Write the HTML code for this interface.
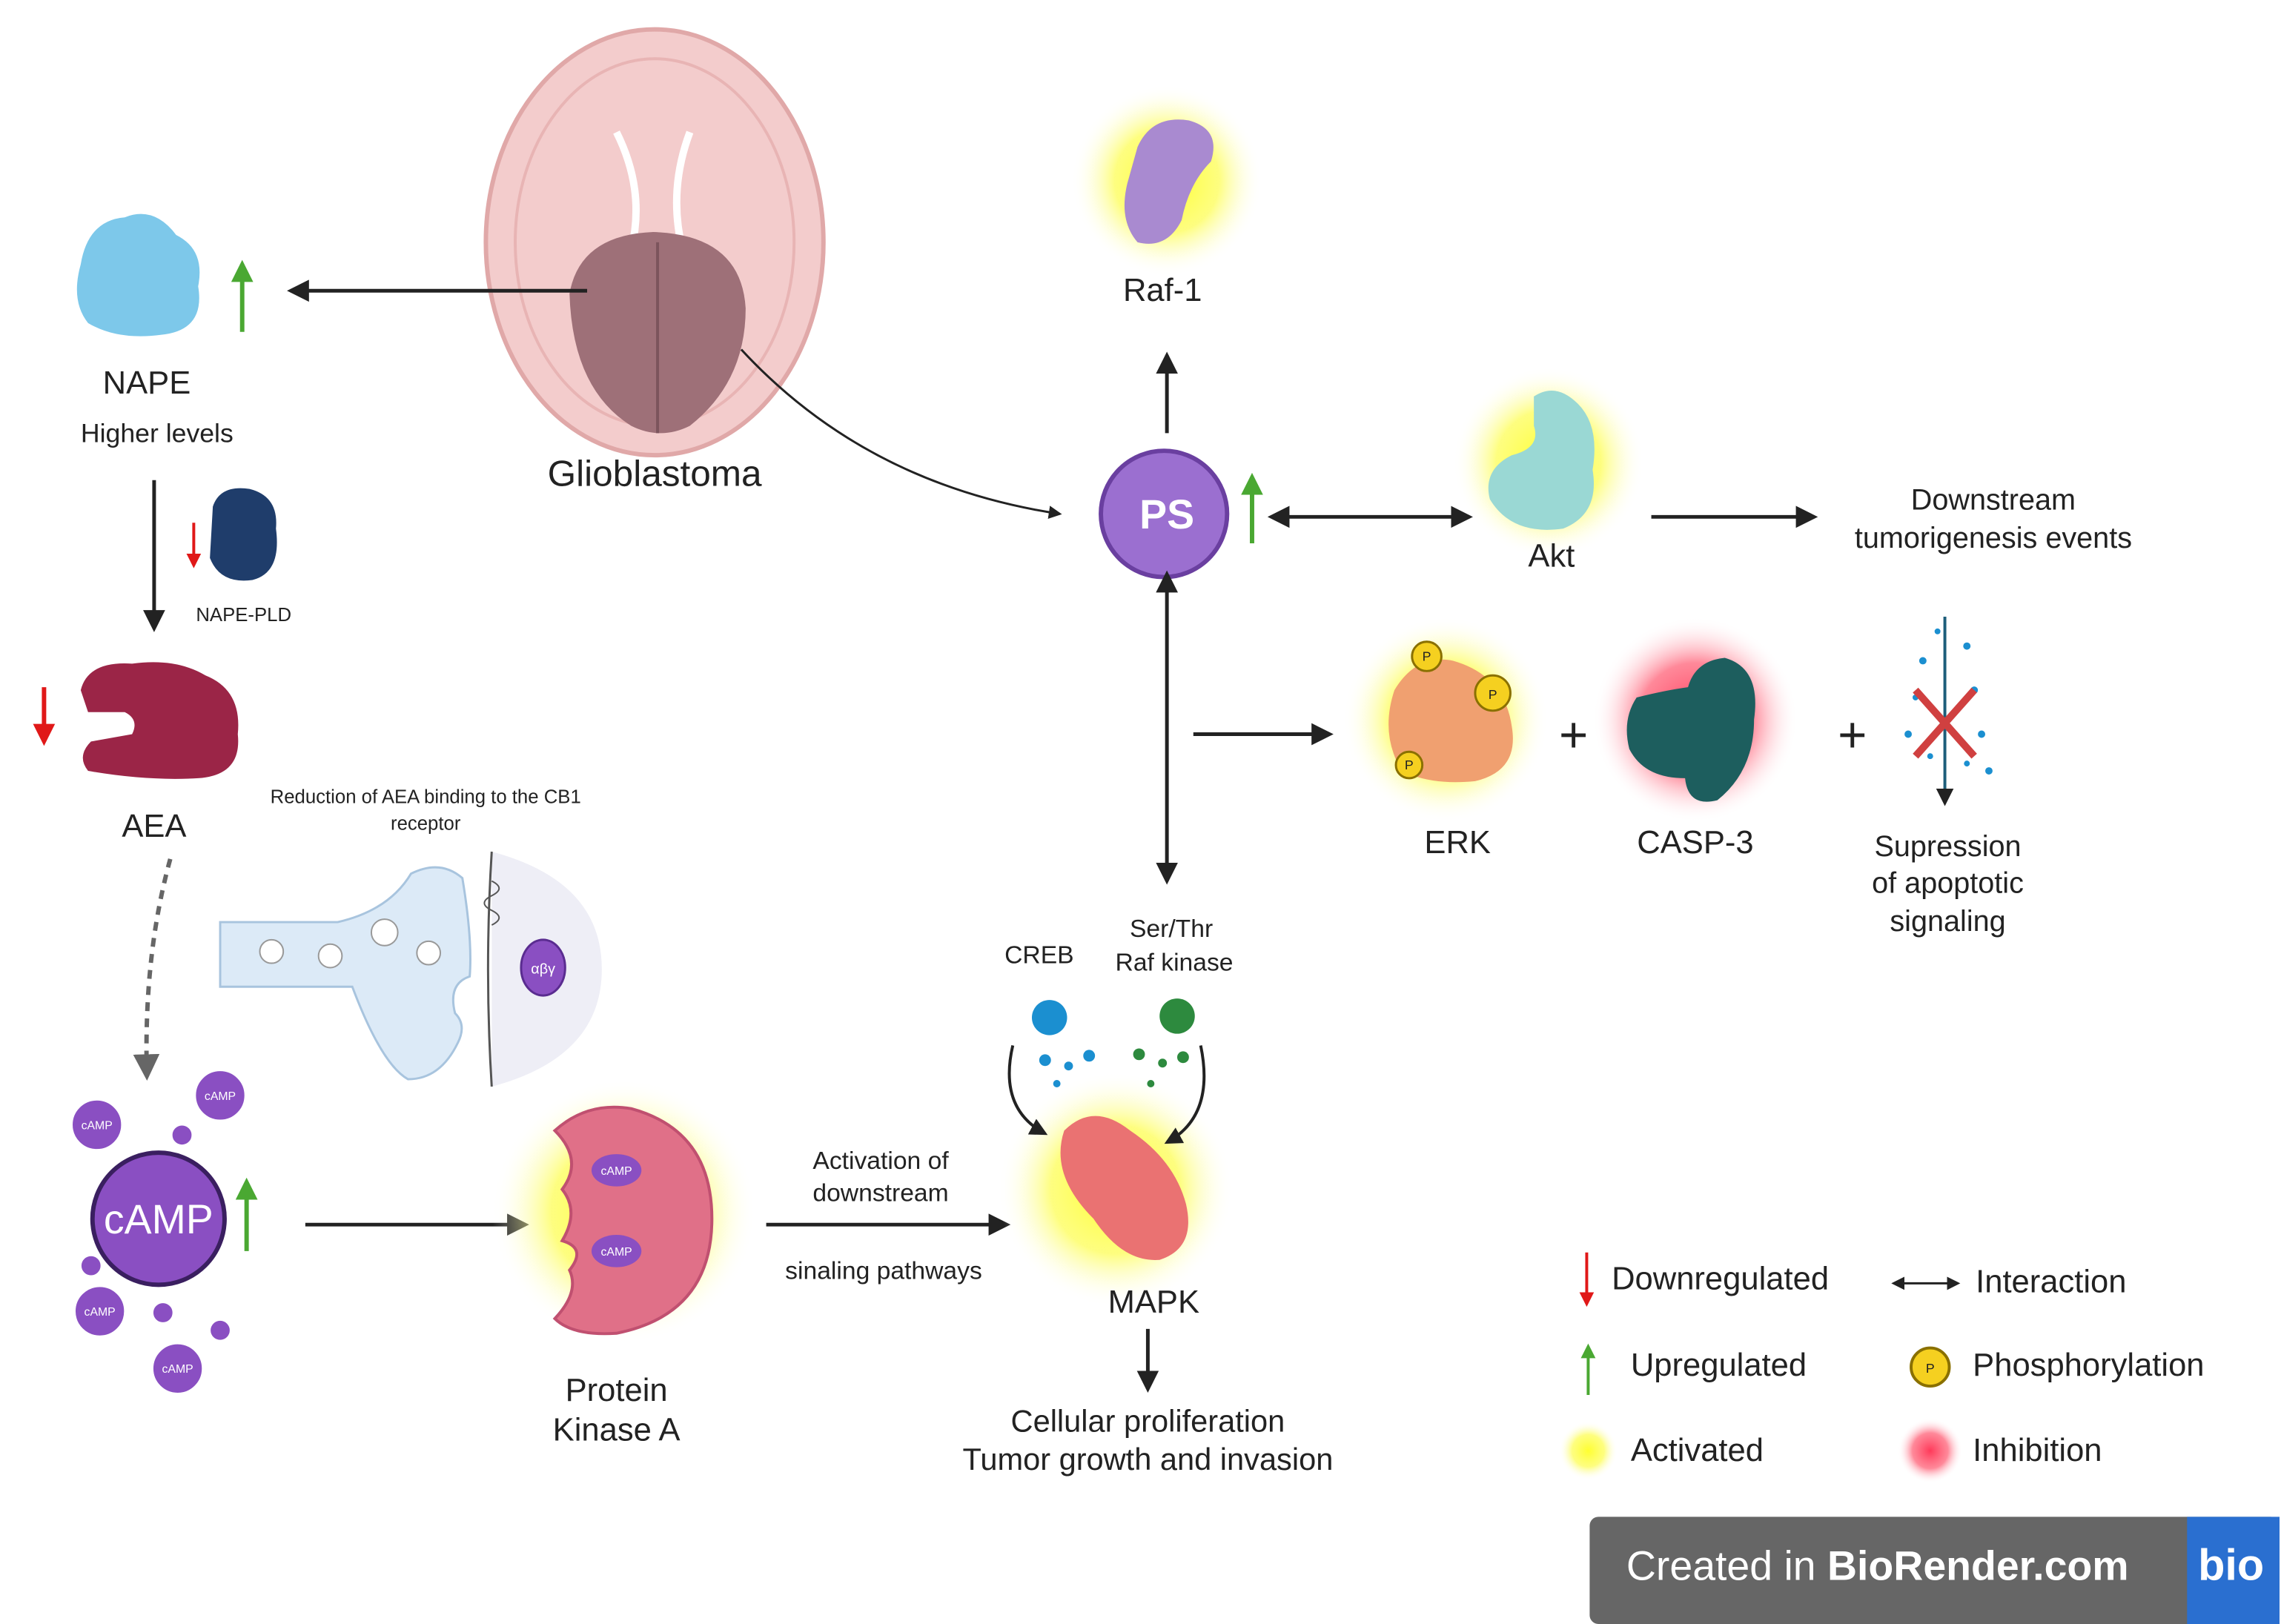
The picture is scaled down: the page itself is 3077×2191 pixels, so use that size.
<!DOCTYPE html>
<html><head><meta charset="utf-8"><style>
html,body{margin:0;padding:0;background:#fff;}
svg{display:block;}
text{font-family:"Liberation Sans",sans-serif;fill:#222;text-anchor:middle;}
</style></head><body>
<svg width="3077" height="2191" viewBox="0 0 1554 1106" preserveAspectRatio="none" xmlns="http://www.w3.org/2000/svg">
<defs>
<radialGradient id="gy"><stop offset="0" stop-color="#ffff30"/><stop offset="0.55" stop-color="#fdfd60" stop-opacity="0.8"/><stop offset="1" stop-color="#fff" stop-opacity="0"/></radialGradient>
<radialGradient id="gr"><stop offset="0" stop-color="#ff3a5a"/><stop offset="0.55" stop-color="#ff6b80" stop-opacity="0.8"/><stop offset="1" stop-color="#fff" stop-opacity="0"/></radialGradient>
<marker id="ah" markerWidth="6" markerHeight="6" refX="5" refY="3" orient="auto" markerUnits="strokeWidth"><path d="M0,0 L6,3 L0,6 z" fill="#222"/></marker>
<marker id="ahs" markerWidth="6" markerHeight="6" refX="1" refY="3" orient="auto-start-reverse" markerUnits="strokeWidth"><path d="M0,0 L6,3 L0,6 z" fill="#222"/></marker>
<marker id="ahg" markerWidth="5" markerHeight="5" refX="4" refY="2.5" orient="auto" markerUnits="strokeWidth"><path d="M0,0 L5,2.5 L0,5 z" fill="#4aa832"/></marker>
<marker id="ahr" markerWidth="5" markerHeight="5" refX="4" refY="2.5" orient="auto" markerUnits="strokeWidth"><path d="M0,0 L5,2.5 L0,5 z" fill="#e01818"/></marker>
<marker id="ahgr" markerWidth="6" markerHeight="6" refX="4" refY="3" orient="auto" markerUnits="strokeWidth"><path d="M0,0 L6,3 L0,6 z" fill="#666"/></marker>
</defs>

<!-- Brain -->
<ellipse cx="446" cy="165" rx="115" ry="145" fill="#f3cccc" stroke="#e0a8a8" stroke-width="3"/>
<ellipse cx="446" cy="165" rx="95" ry="125" fill="none" stroke="#e8b4b4" stroke-width="2"/>
<path d="M420,90 Q440,130 430,170 M470,90 Q455,130 465,170" stroke="#fff" stroke-width="5" fill="none"/>
<path d="M388,200 Q395,160 445,158 Q505,160 508,210 Q508,260 470,290 Q450,300 430,290 Q390,265 388,200z" fill="#9e7078"/>
<line x1="448" y1="165" x2="448" y2="295" stroke="#7c545c" stroke-width="2"/>
<text x="446" y="331" font-size="25">Glioblastoma</text>

<!-- NAPE -->
<path d="M55,180 Q60,150 85,148 Q105,140 120,160 Q140,170 135,195 Q140,225 110,228 Q80,232 60,220 Q48,205 55,180z" fill="#7dc8ea"/>
<line x1="400" y1="198" x2="198" y2="198" stroke="#222" stroke-width="2.5" marker-end="url(#ah)"/>
<line x1="165" y1="226" x2="165" y2="180" stroke="#4aa832" stroke-width="3" marker-end="url(#ahg)"/>
<text x="100" y="268" font-size="22">NAPE</text>
<text x="107" y="301" font-size="18">Higher levels</text>
<line x1="105" y1="327" x2="105" y2="428" stroke="#222" stroke-width="2.5" marker-end="url(#ah)"/>
<path d="M145,345 Q150,330 170,333 Q190,338 188,360 Q192,390 172,395 Q150,398 143,380z" fill="#1f3d6b"/>
<line x1="132" y1="356" x2="132" y2="385" stroke="#e01818" stroke-width="2" marker-end="url(#ahr)"/>
<text x="166" y="423" font-size="13">NAPE-PLD</text>

<!-- AEA -->
<path d="M55,470 Q60,450 90,452 Q120,448 140,460 Q165,470 162,500 Q165,528 135,530 Q100,532 60,525 Q52,515 62,505 L90,500 Q95,490 85,485 L60,485z" fill="#9b2547"/>
<line x1="30" y1="468" x2="30" y2="505" stroke="#e01818" stroke-width="3" marker-end="url(#ahr)"/>
<text x="105" y="570" font-size="22">AEA</text>
<text x="290" y="547" font-size="13">Reduction of AEA binding to the CB1</text>
<text x="290" y="565" font-size="13">receptor</text>

<!-- synapse -->
<path d="M335,580 Q410,600 410,660 Q410,720 335,740z" fill="#eeeef6"/>
<path d="M335,580 Q330,660 335,740" stroke="#555" stroke-width="1.5" fill="none"/>
<path d="M150,628 L230,628 Q265,620 280,595 Q300,585 315,598 Q322,640 320,665 Q305,670 310,690 Q318,698 312,710 Q300,735 278,735 Q260,725 240,672 L150,672z" fill="#dceaf7" stroke="#a8c4de" stroke-width="1.5"/>
<circle cx="185" cy="648" r="8" fill="#fff" stroke="#999"/><circle cx="225" cy="651" r="8" fill="#fff" stroke="#999"/>
<circle cx="262" cy="635" r="9" fill="#fff" stroke="#999"/><circle cx="292" cy="649" r="8" fill="#fff" stroke="#999"/>
<path d="M335,600 q10,5 0,10 q-10,5 0,10 q10,5 0,10" stroke="#555" fill="none"/>
<ellipse cx="370" cy="659" rx="15" ry="19" fill="#8a4fc2" stroke="#5a2c90" stroke-width="1.5"/>
<text x="370" y="663" font-size="10" style="fill:#fff">αβγ</text>

<!-- dashed -->
<path d="M116,585 Q98,650 100,730" stroke="#666" stroke-width="3" stroke-dasharray="6,5" fill="none" marker-end="url(#ahgr)"/>

<!-- cAMP -->
<g fill="#8a4fc2" stroke="#fff" stroke-width="1">
<circle cx="66" cy="766" r="17"/><circle cx="150" cy="746" r="17"/><circle cx="124" cy="773" r="7"/>
<circle cx="62" cy="862" r="7"/><circle cx="68" cy="893" r="17"/><circle cx="111" cy="894" r="7"/>
<circle cx="150" cy="906" r="7"/><circle cx="121" cy="932" r="17"/></g>
<g font-size="8"><text x="66" y="769" style="fill:#fff">cAMP</text><text x="150" y="749" style="fill:#fff">cAMP</text><text x="68" y="896" style="fill:#fff">cAMP</text><text x="121" y="935" style="fill:#fff">cAMP</text></g>
<circle cx="108" cy="830" r="45" fill="#8a4fc2" stroke="#3a1f60" stroke-width="3"/>
<text x="108" y="840" font-size="28" style="fill:#fff">cAMP</text>
<line x1="168" y1="852" x2="168" y2="805" stroke="#4aa832" stroke-width="3" marker-end="url(#ahg)"/>
<line x1="208" y1="834" x2="358" y2="834" stroke="#222" stroke-width="2.5" marker-end="url(#ah)"/>

<!-- PKA -->
<circle cx="425" cy="825" r="90" fill="url(#gy)"/>
<path d="M378,770 Q400,750 430,755 Q485,770 485,830 Q485,895 420,908 Q390,910 378,898 Q395,880 388,865 Q400,850 383,845 Q395,825 383,810 Q398,790 378,770z" fill="#e07088" stroke="#c05070" stroke-width="2"/>
<ellipse cx="420" cy="797" rx="17" ry="11" fill="#8a4fc2"/><ellipse cx="420" cy="852" rx="17" ry="11" fill="#8a4fc2"/>
<text x="420" y="800" font-size="8" style="fill:#fff">cAMP</text><text x="420" y="855" font-size="8" style="fill:#fff">cAMP</text>
<text x="420" y="954" font-size="22">Protein</text>
<text x="420" y="981" font-size="22">Kinase A</text>

<line x1="522" y1="834" x2="686" y2="834" stroke="#222" stroke-width="2.5" marker-end="url(#ah)"/>
<text x="600" y="796" font-size="17">Activation of</text>
<text x="600" y="818" font-size="17">downstream</text>
<text x="602" y="871" font-size="17">sinaling pathways</text>

<!-- MAPK -->
<circle cx="760" cy="810" r="80" fill="url(#gy)"/>
<path d="M725,770 Q745,750 770,770 Q800,790 808,820 Q815,850 790,858 Q765,860 745,830 Q715,800 725,770z" fill="#ea7272"/>
<text x="786" y="894" font-size="22">MAPK</text>
<line x1="782" y1="905" x2="782" y2="946" stroke="#222" stroke-width="2.5" marker-end="url(#ah)"/>
<text x="782" y="975" font-size="21">Cellular proliferation</text>
<text x="782" y="1001" font-size="21">Tumor growth and invasion</text>

<circle cx="715" cy="693" r="12" fill="#1b8fd0"/><circle cx="802" cy="692" r="12" fill="#2d8a3e"/>
<g fill="#1b8fd0"><circle cx="712" cy="722" r="4"/><circle cx="728" cy="726" r="3"/><circle cx="742" cy="719" r="4"/><circle cx="720" cy="738" r="2.5"/></g>
<g fill="#2d8a3e"><circle cx="776" cy="718" r="4"/><circle cx="792" cy="724" r="3"/><circle cx="806" cy="720" r="4"/><circle cx="784" cy="738" r="2.5"/></g>
<path d="M690,712 Q680,755 712,772" stroke="#222" stroke-width="2" fill="none" marker-end="url(#ah)"/>
<path d="M818,712 Q828,760 795,778" stroke="#222" stroke-width="2" fill="none" marker-end="url(#ah)"/>
<text x="708" y="656" font-size="17">CREB</text>
<text x="798" y="638" font-size="17">Ser/Thr</text>
<text x="800" y="661" font-size="17">Raf kinase</text>

<!-- PS -->
<path d="M505,238 Q590,330 722,350" stroke="#222" stroke-width="1.5" fill="none" marker-end="url(#ah)"/>
<circle cx="793" cy="350" r="43" fill="#9b6fd0" stroke="#6a3fa0" stroke-width="3"/>
<text x="795" y="360" font-size="28" font-weight="bold" style="fill:#fff">PS</text>
<line x1="853" y1="370" x2="853" y2="325" stroke="#4aa832" stroke-width="3" marker-end="url(#ahg)"/>
<line x1="795" y1="295" x2="795" y2="242" stroke="#222" stroke-width="2.5" marker-end="url(#ah)"/>

<!-- Raf-1 -->
<circle cx="795" cy="123" r="65" fill="url(#gy)"/>
<path d="M775,100 Q785,78 810,82 Q832,88 825,110 Q810,125 805,150 Q795,170 775,165 Q762,150 768,125z" fill="#a98ad0"/>
<text x="792" y="205" font-size="22">Raf-1</text>

<!-- Akt -->
<line x1="876" y1="352" x2="1001" y2="352" stroke="#222" stroke-width="2.5" marker-start="url(#ahs)" marker-end="url(#ah)"/>
<circle cx="1055" cy="315" r="65" fill="url(#gy)"/>
<path d="M1045,270 Q1060,260 1075,275 Q1090,290 1085,320 Q1090,350 1065,360 Q1030,365 1015,340 Q1010,320 1030,310 Q1050,305 1045,290z" fill="#9ad8d4"/>
<text x="1057" y="386" font-size="22">Akt</text>
<line x1="1125" y1="352" x2="1236" y2="352" stroke="#222" stroke-width="2.5" marker-end="url(#ah)"/>
<text x="1358" y="347" font-size="20">Downstream</text>
<text x="1358" y="373" font-size="20">tumorigenesis events</text>

<!-- vertical double -->
<line x1="795" y1="401" x2="795" y2="600" stroke="#222" stroke-width="2.5" marker-start="url(#ahs)" marker-end="url(#ah)"/>
<line x1="813" y1="500" x2="906" y2="500" stroke="#222" stroke-width="2.5" marker-end="url(#ah)"/>

<!-- ERK -->
<circle cx="985" cy="490" r="70" fill="url(#gy)"/>
<path d="M950,470 Q965,445 990,450 Q1025,460 1030,495 Q1035,525 1005,532 Q975,535 955,525 Q940,500 950,470z" fill="#f0a070"/>
<g fill="#f5d020" stroke="#8a7000" stroke-width="1.5"><circle cx="972" cy="447" r="10"/><circle cx="1017" cy="472" r="12"/><circle cx="960" cy="521" r="9"/></g>
<g font-size="9"><text x="972" y="450">P</text><text x="1017" y="476">P</text><text x="960" y="524">P</text></g>
<text x="993" y="581" font-size="22">ERK</text>
<text x="1072" y="512" font-size="34">+</text>

<!-- CASP-3 -->
<circle cx="1155" cy="490" r="70" fill="url(#gr)"/>
<path d="M1115,475 Q1135,470 1150,468 Q1155,450 1175,448 Q1200,455 1195,490 Q1195,525 1170,545 Q1150,550 1148,530 Q1120,530 1110,510 Q1105,490 1115,475z" fill="#1d5e5e"/>
<text x="1155" y="581" font-size="22">CASP-3</text>
<text x="1262" y="512" font-size="34">+</text>

<!-- suppression -->
<g fill="#1b8fd0"><circle cx="1310" cy="450" r="2.5"/><circle cx="1340" cy="440" r="2.5"/><circle cx="1305" cy="475" r="2"/><circle cx="1345" cy="470" r="2.5"/><circle cx="1300" cy="500" r="2.5"/><circle cx="1350" cy="500" r="2.5"/><circle cx="1315" cy="515" r="2"/><circle cx="1340" cy="520" r="2"/><circle cx="1355" cy="525" r="2.5"/><circle cx="1320" cy="430" r="2"/></g>
<line x1="1325" y1="420" x2="1325" y2="547" stroke="#1d5e7a" stroke-width="2" marker-end="url(#ah)"/>
<path d="M1305,470 L1345,515 M1345,470 L1305,515" stroke="#d04040" stroke-width="5"/>
<text x="1327" y="583" font-size="20">Supression</text>
<text x="1327" y="608" font-size="20">of apoptotic</text>
<text x="1327" y="634" font-size="20">signaling</text>

<!-- legend -->
<line x1="1081" y1="853" x2="1081" y2="888" stroke="#e01818" stroke-width="2" marker-end="url(#ahr)"/>
<text x="1098" y="878" font-size="22" style="text-anchor:start">Downregulated</text>
<line x1="1296" y1="874" x2="1334" y2="874" stroke="#222" stroke-width="1.5" marker-start="url(#ahs)" marker-end="url(#ah)"/>
<text x="1346" y="880" font-size="22" style="text-anchor:start">Interaction</text>
<line x1="1082" y1="950" x2="1082" y2="917" stroke="#4aa832" stroke-width="2" marker-end="url(#ahg)"/>
<text x="1111" y="937" font-size="22" style="text-anchor:start">Upregulated</text>
<circle cx="1315" cy="931" r="13" fill="#f5d020" stroke="#8a7000" stroke-width="2"/>
<text x="1315" y="935" font-size="9">P</text>
<text x="1344" y="937" font-size="22" style="text-anchor:start">Phosphorylation</text>
<circle cx="1082" cy="988" r="20" fill="url(#gy)"/>
<text x="1111" y="995" font-size="22" style="text-anchor:start">Activated</text>
<circle cx="1315" cy="988" r="22" fill="url(#gr)"/>
<text x="1344" y="995" font-size="22" style="text-anchor:start">Inhibition</text>

<!-- banner -->
<rect x="1083" y="1033" width="470" height="73" rx="6" fill="#666"/>
<rect x="1490" y="1033" width="63" height="73" fill="#2a6fd0"/>
<text x="1108" y="1076" font-size="28" style="text-anchor:start;fill:#fff">Created in <tspan font-weight="bold" style="fill:#fff">BioRender.com</tspan></text>
<text x="1520" y="1076" font-size="30" font-weight="bold" style="fill:#fff">bio</text>
</svg>
</body></html>
